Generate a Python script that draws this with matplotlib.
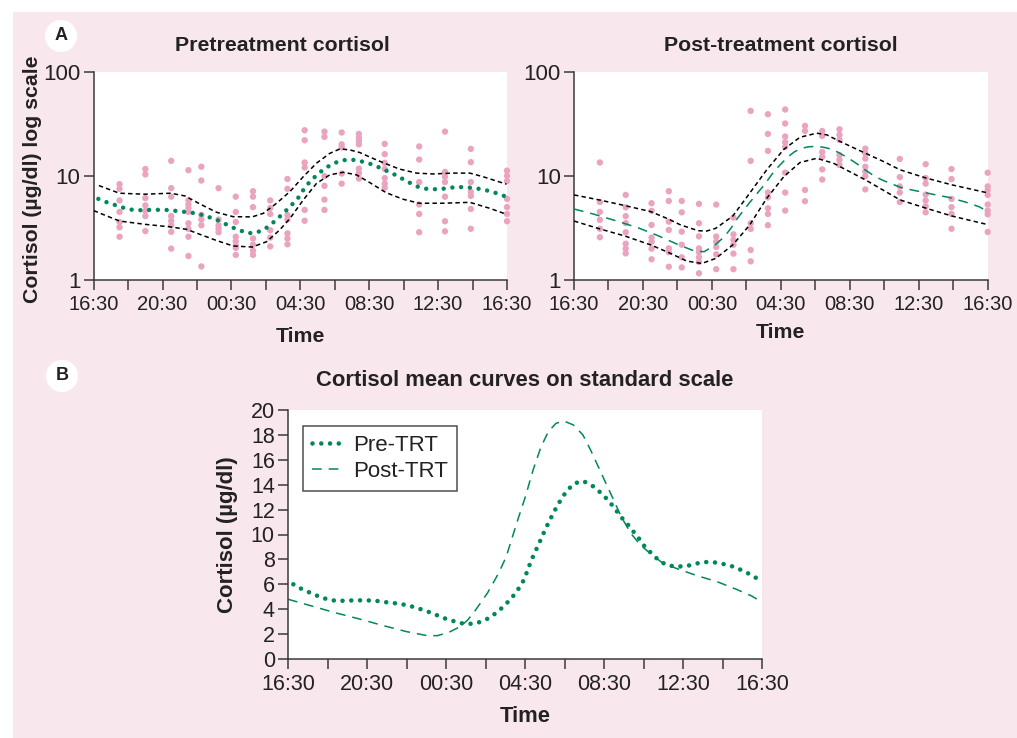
import numpy as np
import matplotlib.pyplot as plt
from matplotlib.patches import Rectangle

plt.rcParams['font.family'] = ['Liberation Sans', 'DejaVu Sans']
plt.rcParams['lines.scale_dashes'] = False

# hours after 16:30
t_samples = [1.5, 3.0, 4.5, 5.5, 6.25, 7.25, 8.25, 9.25, 10.25, 11.25,
             12.25, 13.4, 14.4, 15.4, 16.9, 18.9, 20.4, 21.9, 24.0]

pre_pts = [
    [8.3, 7.5, 5.8, 4.5, 3.6, 3.2, 2.6],
    [11.6, 10.3, 6.1, 5.2, 4.6, 4.1, 2.95],
    [13.9, 7.6, 6.3, 4.1, 3.7, 3.35, 2.9, 2.0],
    [11.3, 5.8, 5.3, 4.9, 4.5, 3.5, 3.1, 2.6, 1.7],
    [12.2, 9.0, 4.2, 3.8, 3.35, 1.35],
    [7.6, 3.8, 3.35, 3.1, 2.87],
    [6.3, 4.5, 3.6, 2.6, 2.35, 2.14, 2.03, 1.74],
    [7.1, 6.3, 5.0, 2.5, 2.18, 1.91, 1.74],
    [5.8, 4.9, 4.3, 3.0, 2.55, 2.1],
    [9.3, 7.5, 4.2, 3.8, 2.8, 2.5, 2.2],
    [27.3, 21.9, 13.4, 12.0, 4.7, 3.7],
    [26.5, 23.6, 9.9, 8.0, 5.9, 4.7],
    [26.0, 20.0, 18.7, 10.5, 8.4],
    [25.2, 23.1, 21.6, 20.0, 11.7, 10.6, 9.4],
    [20.2, 16.1, 13.3, 11.6, 9.5, 8.4, 7.7],
    [19.1, 14.3, 8.7, 5.3, 4.3, 2.87],
    [26.5, 10.9, 9.8, 8.7, 6.3, 3.66, 2.93],
    [18.1, 13.5, 8.7, 7.0, 6.4, 4.8, 3.1],
    [11.2, 10.0, 8.9, 6.0, 5.0, 4.3, 3.66],
]

post_pts = [
    [13.4, 5.6, 4.5, 3.77, 3.1, 2.57],
    [6.55, 4.98, 4.1, 3.52, 2.87, 2.23, 2.0, 1.8],
    [5.45, 4.6, 3.37, 2.55, 2.33, 2.0, 1.58],
    [7.1, 5.73, 3.63, 3.02, 2.01, 1.85, 1.34],
    [5.73, 4.46, 2.91, 2.18, 1.65, 1.32],
    [5.37, 3.5, 2.62, 2.01, 1.85, 1.65, 1.49, 1.16],
    [5.29, 2.61, 2.33, 2.07, 1.76, 1.27],
    [3.97, 2.74, 2.42, 2.18, 1.79, 1.27],
    [41.9, 13.9, 3.5, 3.09, 1.94, 1.51],
    [38.9, 25.2, 17.3, 6.9, 6.2, 4.88, 4.3, 3.35],
    [43.2, 31.7, 23.8, 21.0, 18.9, 10.7, 6.9, 4.63],
    [30.1, 26.9, 7.3, 5.7],
    [26.9, 24.1, 16.9, 15.2, 11.5, 9.2],
    [27.9, 24.7, 22.1, 15.8, 14.2, 12.7],
    [18.2, 16.4, 14.6, 12.2, 11.0, 9.9, 7.4],
    [14.5, 9.7, 7.9, 6.9, 5.6],
    [12.9, 9.5, 8.4, 6.6, 5.8, 5.1, 4.46],
    [11.6, 9.3, 6.0, 5.0, 4.3, 3.1],
    [10.7, 7.9, 7.3, 6.55, 5.3, 4.63, 4.27, 2.89],
]

# mean curves
pre_t = [0.27, 0.72, 1.15, 1.6, 2.04, 2.5, 2.95, 3.42, 3.9, 4.39, 4.85, 5.32,
         5.77, 6.25, 6.72, 7.18, 7.6, 8.04, 8.48, 8.95, 9.42, 9.9, 10.31, 10.68,
         11.0, 11.34, 11.63, 11.88, 12.06, 12.23, 12.41, 12.6, 12.8, 12.99,
         13.19, 13.4, 13.63, 13.88, 14.14, 14.5, 14.93, 15.36, 15.73, 16.06,
         16.39, 16.68, 16.95, 17.26, 17.57, 17.86, 18.1, 18.5, 18.8, 19.23,
         19.7, 20.2, 20.66, 21.1, 21.6, 22.04, 22.5, 22.95, 23.36, 23.79, 24.0]
pre_mean = [6.0, 5.6, 5.3, 5.0, 4.77, 4.66, 4.69, 4.71, 4.71, 4.69, 4.58, 4.5,
            4.4, 4.23, 4.0, 3.75, 3.48, 3.2, 3.0, 2.81, 2.84, 3.05, 3.43, 3.88,
            4.36, 4.93, 5.54, 6.16, 6.83, 7.55, 8.25, 8.9, 9.6, 10.28, 10.95,
            11.6, 12.3, 12.96, 13.55, 14.1, 14.3, 13.98, 13.5, 13.0, 12.4, 11.8,
            11.25, 10.7, 10.07, 9.5, 8.94, 8.35, 7.87, 7.52, 7.42, 7.47, 7.66,
            7.79, 7.76, 7.63, 7.44, 7.15, 6.83, 6.43, 6.3]

post_t = [0, 1.15, 2.31, 3.67, 4.83, 6.0, 6.97, 7.55, 8.14, 8.72, 9.1, 9.5,
          10.1, 10.66, 11.05, 11.63, 12.02, 12.41, 12.8, 13.18, 13.57, 13.96,
          14.45, 14.93, 15.32, 15.71, 16.1, 16.49, 16.87, 17.36, 17.84, 18.43,
          19.0, 19.79, 20.76, 21.73, 22.7, 23.48, 24.0]
post_mean = [4.8, 4.28, 3.75, 3.19, 2.68, 2.2, 1.9, 1.87, 2.14, 2.6, 3.13, 3.94,
             5.3, 6.88, 8.22, 11.16, 13.04, 15.18, 17.0, 18.26, 18.93, 19.12,
             18.8, 18.0, 16.79, 15.45, 14.1, 12.77, 11.43, 10.09, 9.16, 8.35,
             7.68, 7.2, 6.67, 6.21, 5.6, 5.06, 4.55]

# confidence bands
pre_up_t = [0.3, 1.49, 2.98, 4.47, 5.3, 6.17, 7.14, 8.1, 9.2, 9.85, 10.62, 11.4,
            12.17, 12.94, 13.71, 14.3, 14.87, 15.45, 16.2, 16.98, 17.75, 18.74,
            19.7, 20.87, 21.84, 22.6, 23.97]
pre_up = [8.05, 6.8, 6.65, 6.8, 6.4, 5.36, 4.46, 4.05, 4.03, 4.36, 5.45, 7.06,
          9.8, 13.2, 16.4, 18.1, 17.7, 16.7, 14.7, 13.0, 11.6, 10.6, 10.4, 10.6,
          10.6, 9.8, 8.3]
pre_lo_t = [0.0, 0.37, 1.49, 2.98, 4.47, 5.4, 6.17, 7.14, 8.1, 9.2, 10.04, 10.8,
            11.4, 12.17, 12.94, 13.71, 14.49, 15.26, 16.03, 16.98, 17.97, 18.9,
            20.3, 21.84, 23.0, 23.97]
pre_lo = [4.63, 4.37, 3.68, 3.42, 3.23, 3.06, 2.74, 2.39, 2.12, 2.07, 2.33, 3.02,
          3.9, 5.86, 8.45, 10.2, 10.8, 10.2, 8.6, 6.88, 5.95, 5.45, 5.45, 5.56,
          4.87, 4.27]

post_up_t = [0, 1.47, 2.96, 4.45, 5.47, 6.19, 7.21, 7.7, 8.22, 9.21, 10.19,
             11.18, 12.17, 13.11, 14.08, 14.66, 15.44, 16.92, 17.95, 18.92,
             20.43, 21.92, 24.0]
post_up = [6.55, 5.86, 5.17, 4.53, 3.85, 3.37, 2.97, 2.95, 3.13, 4.1, 6.8, 11.4,
           17.9, 23.4, 25.6, 24.7, 21.3, 16.4, 13.7, 11.4, 9.5, 8.18, 6.85]
post_lo_t = [0, 1.47, 2.96, 4.45, 5.47, 6.54, 7.41, 8.22, 9.21, 10.19, 11.18,
             12.17, 13.11, 14.08, 15.05, 16.92, 18.92, 20.43, 21.92, 24.0]
post_lo = [3.68, 3.1, 2.64, 2.17, 1.84, 1.52, 1.44, 1.61, 2.17, 3.37, 6.07, 9.8,
           13.4, 14.7, 13.2, 9.1, 5.86, 4.88, 4.11, 3.4]

xtick_labels = ['16:30', '', '20:30', '', '00:30', '', '04:30', '', '08:30', '',
                '12:30', '', '16:30']

green = '#00875a'
pink = '#eaa4c0'
bg = '#f9e7ee'
ink = '#222222'
dot_style = (0, (0.01, 6.3))
dash_style = (0, (7, 5))
ci_style = (0, (3.2, 2.3))

fig = plt.figure(figsize=(10.17, 7.38), dpi=100, facecolor='white')
fig.patches.append(Rectangle((13 / 1017, 0), 1, 1 - 12 / 738, transform=fig.transFigure,
                             facecolor=bg, edgecolor='none', zorder=-10))

W, H = 1017, 738


def make_ax(x0, x1, ytop, ybot, tsize):
    ax = fig.add_axes([x0 / W, 1 - ybot / H, (x1 - x0) / W, (ybot - ytop) / H])
    ax.set_facecolor('white')
    for s in ['top', 'right']:
        ax.spines[s].set_visible(False)
    for s in ['left', 'bottom']:
        ax.spines[s].set_color('#3a3a3a')
        ax.spines[s].set_linewidth(1.1)
    ax.set_xlim(0, 24)
    ax.set_xticks(np.arange(0, 25, 2))
    ax.set_xticklabels(xtick_labels)
    ax.tick_params(axis='both', direction='out', length=7.5, width=1.1,
                   color='#3a3a3a', labelcolor=ink, labelsize=tsize)
    ax.tick_params(axis='x', pad=3)
    ax.tick_params(axis='y', pad=2)
    return ax


def log_panel(ax, pts, ci_up_t, ci_up, ci_lo_t, ci_lo):
    ax.set_yscale('log')
    ax.set_ylim(1, 100)
    ax.set_yticks([1, 10, 100])
    ax.set_yticklabels(['1', '10', '100'])
    ax.minorticks_off()
    ax.tick_params(axis='y', labelsize=16)
    for t, vals in zip(t_samples, pts):
        ax.scatter([t] * len(vals), vals, s=21, color=pink, edgecolors='none',
                   zorder=2, clip_on=False)
    ax.plot(ci_up_t, ci_up, color='black', lw=1.1, linestyle=ci_style, zorder=3)
    ax.plot(ci_lo_t, ci_lo, color='black', lw=1.1, linestyle=ci_style, zorder=3)


# Panel A left
ax1 = make_ax(93.7, 507, 71.5, 280, 14.5)
log_panel(ax1, pre_pts, pre_up_t, pre_up, pre_lo_t, pre_lo)
ax1.plot(pre_t, pre_mean, color=green, lw=3.2, linestyle=dot_style,
         dash_capstyle='round', zorder=4)
ax1.text(0.457, 1.127, 'Pretreatment cortisol', transform=ax1.transAxes,
         ha='center', va='center', fontsize=15.3, fontweight='bold', color=ink)
ax1.set_ylabel('Cortisol (µg/dl) log scale', fontsize=15.3, fontweight='bold',
               color=ink, va='center')
ax1.yaxis.set_label_coords(-0.147, 0.484)
ax1.set_xlabel('Time', fontsize=15.3, fontweight='bold', color=ink, va='center')
ax1.xaxis.set_label_coords(0.5, -0.273)

# Panel A right
ax2 = make_ax(574, 987.7, 71.5, 280, 14.5)
log_panel(ax2, post_pts, post_up_t, post_up, post_lo_t, post_lo)
ax2.plot(post_t, post_mean, color=green, lw=1.1, linestyle=dash_style, zorder=4)
ax2.text(0.5, 1.127, 'Post-treatment cortisol', transform=ax2.transAxes,
         ha='center', va='center', fontsize=15.3, fontweight='bold', color=ink)
ax2.set_xlabel('Time', fontsize=15.3, fontweight='bold', color=ink, va='center')
ax2.xaxis.set_label_coords(0.5, -0.254)

# Panel B
ax3 = make_ax(288, 762, 410, 659, 15.5)
ax3.set_ylim(0, 20)
ax3.set_yticks(np.arange(0, 21, 2))
ax3.plot(pre_t, pre_mean, color=green, lw=3.3, linestyle=dot_style,
         dash_capstyle='round', label='Pre-TRT')
ax3.plot(post_t, post_mean, color=green, lw=1.1, linestyle=dash_style,
         label='Post-TRT')
ax3.text(0.5, 1.12, 'Cortisol mean curves on standard scale', transform=ax3.transAxes,
         ha='center', va='center', fontsize=15.8, fontweight='bold', color=ink)
ax3.set_ylabel('Cortisol (µg/dl)', fontsize=16, fontweight='bold', color=ink,
               va='center')
ax3.yaxis.set_label_coords(-0.127, 0.5)
ax3.set_xlabel('Time', fontsize=15.8, fontweight='bold', color=ink, va='center')
ax3.xaxis.set_label_coords(0.5, -0.229)
leg = ax3.legend(loc='upper left', bbox_to_anchor=(0.032, 0.937), borderaxespad=0,
                 fontsize=16, fancybox=False, frameon=True, handlelength=1.4,
                 handletextpad=0.45, labelspacing=0.25, borderpad=0.4)
leg.get_frame().set_edgecolor('#222222')
leg.get_frame().set_linewidth(1.1)
for txt in leg.get_texts():
    txt.set_color(ink)

# panel letters
for letter, (px, py) in [('A', (61, 36)), ('B', (62, 376))]:
    fig.text(px / W, 1 - py / H, letter, ha='center', va='center', fontsize=13,
             fontweight='bold', color=ink,
             bbox=dict(boxstyle='circle,pad=0.42', facecolor='white', edgecolor='none'))

fig.savefig('out.png', dpi=100, facecolor=fig.get_facecolor())
